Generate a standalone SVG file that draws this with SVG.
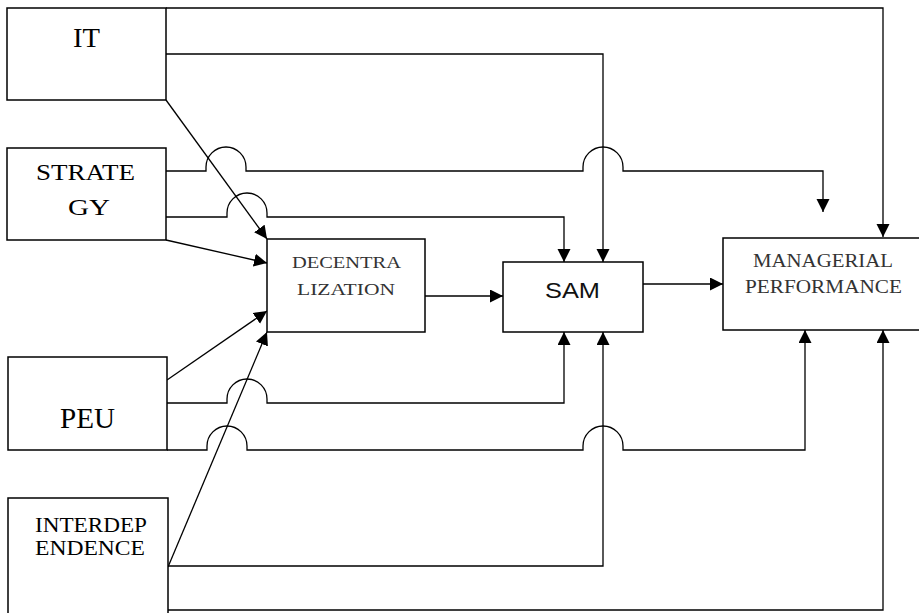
<svg xmlns="http://www.w3.org/2000/svg" width="919" height="613" viewBox="0 0 919 613">
<style>
.box{fill:#fff;stroke:#000;stroke-width:1.5}
.c{fill:none;stroke:#000;stroke-width:1.3}
.a{marker-end:url(#arr)}
.t{font-family:"Liberation Serif","Times New Roman",serif;fill:#000}
.l{fill:#333}
.s{font-family:"Liberation Sans",Arial,sans-serif;fill:#111}
</style>
<defs>
<marker id="arr" markerUnits="userSpaceOnUse" markerWidth="14" markerHeight="14" refX="13" refY="6.5" orient="auto">
<path d="M0,0 L13,6.5 L0,13 z" fill="#000"/>
</marker>
</defs>
<rect width="919" height="613" fill="#fff"/>
<g id="connectors">
<path class="c a" d="M166,8 H883 V237"/>
<path class="c a" d="M166,54 H603 V262"/>
<path class="c a" d="M166,100 L267,239"/>
<path class="c a" d="M166,171 H206 v-4 a20,20 0 0 1 40,0 v4 H583 v-4 a20,20 0 0 1 40,0 v4 H823 V212"/>
<path class="c a" d="M166,217 H227 v-4 a20,20 0 0 1 40,0 v4 H564 V262"/>
<path class="c a" d="M166,240 L267,263"/>
<path class="c a" d="M425,296 H503"/>
<path class="c a" d="M643,284 H723"/>
<path class="c a" d="M167,380 L267,311"/>
<path class="c a" d="M167,403 H227 v-4 a20,20 0 0 1 40,0 v4 H564 V332"/>
<path class="c a" d="M167,450 H207 v-4 a20,20 0 0 1 40,0 v4 H583 v-4 a20,20 0 0 1 40,0 v4 H805 V330"/>
<path class="c a" d="M168,567 L267,332"/>
<path class="c a" d="M168,566 H603 V332"/>
<path class="c a" d="M168,610 H883 V330"/>
</g>
<g id="it">
<rect class="box" x="7" y="8" width="159" height="92"/>
<text class="t" x="73" y="47" font-size="28" textLength="27" lengthAdjust="spacingAndGlyphs">IT</text>
</g>
<g id="strategy">
<rect class="box" x="7" y="148" width="159" height="92"/>
<text class="t" x="36" y="180" font-size="24" textLength="99" lengthAdjust="spacingAndGlyphs">STRATE</text>
<text class="t" x="68" y="215" font-size="24" textLength="42" lengthAdjust="spacingAndGlyphs">GY</text>
</g>
<g id="peu">
<rect class="box" x="8" y="357" width="159" height="93"/>
<text class="t" x="60" y="428" font-size="29" textLength="55" lengthAdjust="spacingAndGlyphs">PEU</text>
</g>
<g id="interdependence">
<rect class="box" x="8" y="498" width="160" height="130"/>
<text class="t" x="35" y="532" font-size="21" textLength="112" lengthAdjust="spacingAndGlyphs">INTERDEP</text>
<text class="t" x="35" y="555" font-size="21" textLength="110" lengthAdjust="spacingAndGlyphs">ENDENCE</text>
</g>
<g id="decentralization">
<rect class="box" x="267" y="239" width="158" height="93"/>
<text class="t l" x="292" y="268" font-size="17" textLength="109" lengthAdjust="spacingAndGlyphs">DECENTRA</text>
<text class="t l" x="297" y="295" font-size="17" textLength="98" lengthAdjust="spacingAndGlyphs">LIZATION</text>
</g>
<g id="sam">
<rect class="box" x="503" y="262" width="140" height="70"/>
<text class="s" x="545" y="298" font-size="22" textLength="55" lengthAdjust="spacingAndGlyphs">SAM</text>
</g>
<g id="managerial-performance">
<rect class="box" x="723" y="238" width="210" height="92"/>
<text class="t l" x="753" y="267" font-size="18" textLength="140" lengthAdjust="spacingAndGlyphs">MANAGERIAL</text>
<text class="t l" x="745" y="293" font-size="18" textLength="157" lengthAdjust="spacingAndGlyphs">PERFORMANCE</text>
</g>
</svg>
